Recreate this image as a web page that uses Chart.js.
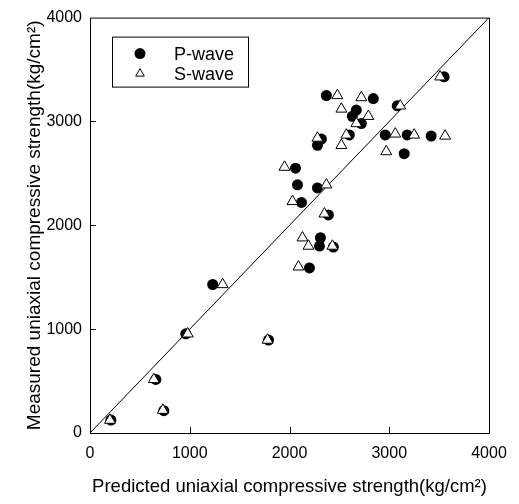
<!DOCTYPE html>
<html>
<head>
<meta charset="utf-8">
<script src="https://cdn.jsdelivr.net/npm/chart.js@4/dist/chart.umd.min.js"></script>
<style>
html,body{margin:0;padding:0;background:#fff;}
canvas{display:block;}
</style>
</head>
<body>
<canvas id="c" width="519" height="504"></canvas>
<script>
// ---- data ----
const pWaveX = [2370, 2840, 2670, 2630, 2720, 3080, 2320, 2280, 2600, 2960, 3180, 3420, 3150, 2060, 2080, 2280, 2120, 2390, 2310, 2300, 2440, 2200, 1230, 960, 1790, 660, 740, 210, 3550];
const pWaveY = [3250, 3220, 3110, 3050, 2980, 3150, 2830, 2770, 2870, 2870, 2870, 2860, 2690, 2550, 2390, 2360, 2220, 2100, 1880, 1800, 1790, 1590, 1430, 955, 895, 516, 215, 124, 3430];
const sWaveX = [2480, 2720, 2520, 2790, 2670, 3110, 2280, 2570, 2520, 3060, 3250, 3560, 2970, 1950, 2370, 2030, 2350, 2130, 2190, 2430, 2090, 1330, 980, 1780, 640, 730, 200, 3510];
const sWaveY = [3250, 3230, 3120, 3050, 2980, 3150, 2840, 2870, 2770, 2880, 2870, 2860, 2710, 2560, 2390, 2230, 2110, 1880, 1800, 1800, 1600, 1430, 955, 895, 516, 220, 124, 3430];
const lineX = [0, 4000];
const lineY = [0, 4000];
const tickValues = [0, 1000, 2000, 3000, 4000];
const tickLabels = ['0', '1000', '2000', '3000', '4000'];
const seriesNames = ['P-wave', 'S-wave'];
const xTitle = 'Predicted uniaxial compressive strength(kg/cm²)';
const yTitle = 'Measured uniaxial compressive strength(kg/cm²)';

const FONT = '"Liberation Sans", Arial, Helvetica, sans-serif';
const toPts = (xs, ys) => xs.map((x, i) => ({x: x, y: ys[i]}));
const tickText = v => { const i = tickValues.indexOf(v); return i >= 0 ? tickLabels[i] : ''; };

const frameAndTicks = {
  id: 'frameAndTicks',
  afterDatasetsDraw(chart) {
    const {ctx, chartArea: a, scales} = chart;
    ctx.save();
    ctx.strokeStyle = '#000';
    ctx.lineWidth = 1;
    ctx.strokeRect(a.left + 0.5, a.top + 0.5, a.right - a.left, a.bottom - a.top);
    ctx.beginPath();
    tickValues.forEach(v => {
      if (v === 0 || v === 4000) return;
      const px = Math.round(scales.x.getPixelForValue(v)) + 0.5;
      ctx.moveTo(px, a.bottom);
      ctx.lineTo(px, a.bottom - 6);
      const py = Math.round(scales.y.getPixelForValue(v)) + 0.5;
      ctx.moveTo(a.left, py);
      ctx.lineTo(a.left + 6, py);
    });
    ctx.stroke();
    ctx.restore();
  }
};

const boxLegend = {
  id: 'boxLegend',
  afterDraw(chart) {
    const {ctx, chartArea: a} = chart;
    const bx = a.left + 22, by = a.top + 19, bw = 136, bh = 50;
    ctx.save();
    ctx.fillStyle = '#fff';
    ctx.fillRect(bx, by, bw, bh);
    ctx.strokeStyle = '#000';
    ctx.lineWidth = 1;
    ctx.strokeRect(bx + 0.5, by + 0.5, bw, bh);
    const dsOrder = [1, 0]; // P-wave, S-wave
    dsOrder.forEach((di, row) => {
      const ds = chart.data.datasets[di];
      const cy = by + 17 + row * 20;
      const cx = bx + 28;
      ctx.fillStyle = ds.backgroundColor;
      ctx.strokeStyle = ds.borderColor;
      ctx.lineWidth = 1;
      ctx.beginPath();
      if (ds.pointStyle === 'circle') {
        ctx.arc(cx, cy, 5.5, 0, Math.PI * 2);
        ctx.fill();
      } else {
        const r = 5;
        ctx.moveTo(cx, cy - r);
        ctx.lineTo(cx + r * 0.866, cy + r * 0.5);
        ctx.lineTo(cx - r * 0.866, cy + r * 0.5);
        ctx.closePath();
        ctx.fill();
        ctx.stroke();
      }
      ctx.fillStyle = '#000';
      ctx.font = '18px ' + FONT;
      ctx.textBaseline = 'middle';
      ctx.textAlign = 'left';
      ctx.fillText(ds.label, bx + 62, cy + 1);
    });
    ctx.restore();
  }
};

new Chart(document.getElementById('c'), {
  type: 'scatter',
  data: {
    datasets: [
      {
        label: seriesNames[1],
        data: toPts(sWaveX, sWaveY),
        pointStyle: 'triangle',
        radius: 6.3,
        backgroundColor: '#ffffff',
        borderColor: '#000000',
        borderWidth: 1,
        order: 1
      },
      {
        label: seriesNames[0],
        data: toPts(pWaveX, pWaveY),
        pointStyle: 'circle',
        radius: 5.5,
        backgroundColor: '#000000',
        borderColor: '#000000',
        borderWidth: 0,
        order: 2
      },
      {
        type: 'line',
        label: 'y=x',
        data: toPts(lineX, lineY),
        borderColor: '#000000',
        borderWidth: 1,
        pointRadius: 0,
        fill: false,
        order: 3
      }
    ]
  },
  options: {
    responsive: false,
    animation: false,
    events: [],
    layout: {padding: {left: 0, right: 30, top: 14, bottom: 0}},
    plugins: {legend: {display: false}, tooltip: {enabled: false}},
    scales: {
      x: {
        type: 'linear',
        min: 0, max: 4000,
        afterBuildTicks: s => { s.ticks = tickValues.map(v => ({value: v})); },
        afterFit: s => { s.height = 71; },
        grid: {display: false, drawTicks: false},
        border: {display: false},
        ticks: {color: '#000', font: {family: FONT, size: 16}, padding: 11, maxRotation: 0, callback: v => tickText(v)},
        title: {display: true, text: xTitle, color: '#000', font: {family: FONT, size: 18.5}, padding: {top: 0, bottom: 6}}
      },
      y: {
        type: 'linear',
        min: 0, max: 4000,
        afterBuildTicks: s => { s.ticks = tickValues.map(v => ({value: v})); },
        afterFit: s => { s.width = 90; },
        grid: {display: false, drawTicks: false},
        border: {display: false},
        ticks: {color: '#000', font: {family: FONT, size: 16}, padding: 8, callback: v => tickText(v)},
        title: {display: true, text: yTitle, color: '#000', font: {family: FONT, size: 19}, padding: {top: 23, bottom: 0}}
      }
    }
  },
  plugins: [frameAndTicks, boxLegend]
});
</script>
</body>
</html>
